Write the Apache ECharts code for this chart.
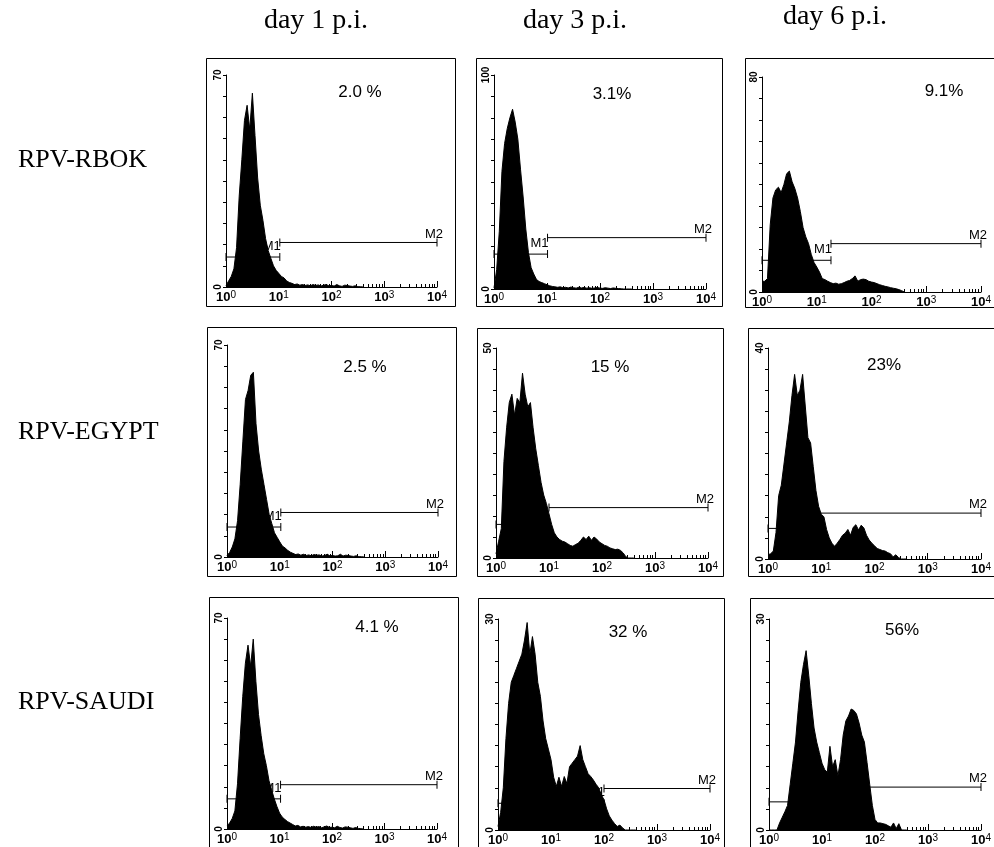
<!DOCTYPE html>
<html><head><meta charset="utf-8">
<script src="https://cdn.jsdelivr.net/npm/echarts@6/dist/echarts.min.js"></script>
<style>html,body{margin:0;padding:0;background:#fff}#c{width:994px;height:847px}</style>
</head><body><div id="c"></div>
<script>
// ---------------- data ----------------
const COL_TITLES = ['day 1 p.i.', 'day 3 p.i.', 'day 6 p.i.'];
const ROW_TITLES = ['RPV-RBOK', 'RPV-EGYPT', 'RPV-SAUDI'];
const X_DECADES = [0, 1, 2, 3, 4];            // tick labels 10^0 … 10^4
// channel positions (log10 of fluorescence)
const CH = [0,0.05,0.1,0.15,0.2,0.25,0.3,0.35,0.4,0.45,0.5,0.55,0.6,0.65,0.7,0.75,0.8,0.85,0.9,0.95,
            1,1.05,1.1,1.15,1.2,1.25,1.3,1.35,1.4,1.45,1.5,1.55,1.6,1.65,1.7,1.75,1.8,1.85,1.9,1.95,
            2,2.05,2.1,2.15,2.2,2.25,2.3,2.35,2.4,2.45,2.5,2.55,2.6];
const RBOK_D1  = [0.5,2,3.5,6,13,30,42,55,60,52,64,50,36,27,22,16,12,9.5,7,5.5,4.5,3.5,3,2,1.5,1.2,0.8,1,0.6,0.8,0.5,0.7,0.4,0.8,0.5,0.7,0.3,0.6,0.8,0.4,0.5,0.3,0.8,0.4,0.2,0.6,0.5,0.3,0.2,0.4,0.1,0.1,0];
const RBOK_D3  = [0.5,9,27,55,68,75,80,84,78,70,56,43,28,17,10,7,4.5,3.5,3,2.5,2,1.5,1.2,1,0.8,1,0.6,0.8,0.5,0.9,0.6,0.4,0.8,0.5,0.7,0.4,0.6,0.3,0.5,0.7,0.4,0.3,0.6,0.4,0.2,0.5,0.3,0.2,0.1,0,0,0,0];
const RBOK_D6  = [4,4,5,25,35,38,39,37,40,44,45,41,38.5,35,30,24,20.5,18,14,11,9.3,7.4,5,4.6,4,3.5,3.1,3.3,2.9,3.1,3.5,4,4.3,5,6,4,4.6,4.8,4.6,4,3.7,3.5,3.1,2.7,2.4,2.1,1.9,1.6,1.4,1.2,0.9,0.5,0];
const EGYPT_D1 = [0.5,1.5,3.3,6,12,24,38,52,55,60,61,44,35,29,24,19,14,11,8,6.5,5,3.6,3,2.2,1.6,1.2,0.8,1,0.6,0.9,0.5,0.7,0.4,0.8,0.6,0.7,0.3,0.5,0.9,0.4,0.5,0.3,0.4,0.9,0.3,0.6,0.5,0.3,0.2,0.4,0.1,0.1,0];
const EGYPT_D3 = [1,4,7,23,31,37,39,34,38,37,44,39,36,37,31,26,22,18,15,13,10.5,8,6,5,4.4,4,3.8,3.4,3,2.8,3.2,3.5,4.2,5,4.4,5.2,4.2,5,4.5,3.8,3.4,3,2.8,2.4,2.2,2,2.1,1.8,1.2,0.3,0,0,0];
const EGYPT_D6 = [0.8,1,1.5,5,12,14,18,22,26,31,35,31,32,35,29,23,22,17.5,13,10,8.5,8,5.6,4,3,2.4,3,3.7,4.5,4.9,5.6,4.5,6,6.5,5.5,6.4,5.9,4.5,3.6,3,2.5,2,1.8,1.6,1.5,1.2,1,0.4,0.8,0.3,0,0,0];
const SAUDI_D1 = [1,2,3.5,6,15,30,44,55,61,54,63,49,38,31,25,21,16,13,10,7.5,5.3,4,3.2,2.5,2,1.5,1,1.2,0.7,0.9,0.6,0.8,0.5,0.9,0.6,0.8,0.4,0.7,1,0.5,0.6,0.4,0.9,0.5,0.3,0.7,0.6,0.4,0.2,0.5,0.2,0.1,0];
const SAUDI_D3 = [0.5,2.5,6,13,18,21,22,23,24,25,27,29.5,25,27.5,25,21,19,15.5,13,11.5,10,7.5,6.2,7.5,6.2,7.6,6.6,9,9.5,10,10.5,12,10,9,8,7.6,7.1,6.5,6,5,4.3,3,2,1.4,0.9,0.5,0.7,0.3,0,0,0,0,0];
const SAUDI_D6 = [0,0,0,0,1,1.8,2.6,3.5,6.5,9.5,12.5,17,21,23.5,25.5,22,18,14.5,12.5,11,9.5,8.6,8.2,11.9,9,10,7.7,10,13.5,15.5,16.2,17.2,17,16.5,15.2,13.5,12.5,9.6,6.5,3.5,1.5,1,1,0.9,0.8,0.6,0.4,1,0.2,0.9,0,0,0];
const HISTS = [RBOK_D1, RBOK_D3, RBOK_D6, EGYPT_D1, EGYPT_D3, EGYPT_D6, SAUDI_D1, SAUDI_D3, SAUDI_D6];
const Y_MAX  = [70, 100, 80, 70, 50, 40, 70, 30, 30];
const PCT    = ['2.0 %', '3.1%', '9.1%', '2.5 %', '15 %', '23%', '4.1 %', '32 %', '56%'];
const M1_END = [1.02, 1.01, 1.26, 1.02, 1.0, 0.95, 1.02, 2.0, 1.88];
const M1_Y   = [9.9, 16.3, 11.8, 9.9, 8, 5.8, 10, 3.8, 4.0];
const M2_Y   = [14.7, 24, 18, 14.7, 12, 8.7, 14.7, 5.9, 6.1];
const M2_END = 4;

// ---------------- layout ----------------
const GRIDS = [[226,75,211,212],[494,75,212,214],[762,77,220,215],
               [227,345,211,212],[496,348,212,210],[768,348,219,211],
               [227,618,210,211],[498,619,212,211],[769,619,218,212]];
const BOXES = [[206,58,249,248],[476,58,246,248],[745,58,280,249],
               [207,327,249,249],[477,328,246,248],[748,328,280,248],
               [209,597,249,280],[478,598,246,280],[750,598,280,280]];
const PCT_POS = [[360,92],[612,94],[944,91],[365,367],[610,367],[884,365],[377,627],[628,632],[902,630]];
const COL_POS = [[316,21],[575,21],[835,17]];
const ROW_POS = [[18,160],[18,432],[18,702]];

const MINOR = [];
for (let d = 0; d < 4; d++) for (let k = 2; k <= 9; k++) MINOR.push(d + Math.log10(k));

const SANS = "'Liberation Sans', Arial, sans-serif";
const NARROW = "'Liberation Sans Narrow', 'Liberation Sans', Arial, sans-serif";
const SERIF = "'Liberation Serif', 'Times New Roman', serif";

const grid = [], xAxis = [], yAxis = [], series = [], graphic = [];
HISTS.forEach((h, i) => {
  const [l, t, w, ht] = GRIDS[i];
  grid.push({ left: l, top: t, width: w, height: ht, containLabel: false });
  // major axis with labels
  xAxis.push({
    type: 'value', gridIndex: i, position: 'bottom', min: 0, max: 4, interval: 1,
    axisLine: { show: true, lineStyle: { color: '#000', width: 1 } },
    axisTick: { show: true, inside: true, length: 6, lineStyle: { color: '#000' } },
    splitLine: { show: false },
    axisLabel: {
      margin: 3, color: '#000', fontFamily: NARROW,
      formatter: v => X_DECADES.includes(v) ? '{b|10}{s|' + v + '}' : '',
      rich: { b: { fontSize: 13, fontFamily: NARROW, color: '#000', fontWeight: 'bold', lineHeight: 15 },
              s: { fontSize: 10, fontFamily: NARROW, color: '#000', verticalAlign: 'top', lineHeight: 15 } }
    }
  });
  // minor log ticks
  xAxis.push({
    type: 'value', gridIndex: i, position: 'bottom', offset: 0, min: 0, max: 4,
    axisLine: { show: false },
    axisTick: { show: true, inside: true, length: 3, customValues: MINOR, lineStyle: { color: '#000' } },
    axisLabel: { show: false }, splitLine: { show: false }
  });
  const mx = Y_MAX[i];
  yAxis.push({
    type: 'value', gridIndex: i, min: 0, max: mx, interval: mx / 10,
    axisLine: { show: true, lineStyle: { color: '#000', width: 1 } },
    axisTick: { show: true, inside: false, length: 3, lineStyle: { color: '#000' } },
    splitLine: { show: false },
    axisLabel: {
      rotate: 90, margin: 3, fontSize: 10, fontWeight: 'bold', color: '#000', fontFamily: SANS,
      formatter: v => (v === 0 || v === mx) ? String(v) : ''
    }
  });
  const xi = i * 2;
  // M1 gate
  series.push({
    type: 'line', xAxisIndex: xi, yAxisIndex: i, z: 4, silent: true, animation: false,
    symbol: 'rect', symbolSize: [1, 8], itemStyle: { color: '#000' },
    lineStyle: { color: '#000', width: 1 },
    data: [[0, M1_Y[i]], { value: [M1_END[i], M1_Y[i]],
      label: { show: true, formatter: 'M1', position: 'top', distance: 0, offset: [-8, 0],
               fontSize: 13, fontFamily: SANS, color: '#000' } }]
  });
  // M2 gate
  series.push({
    type: 'line', xAxisIndex: xi, yAxisIndex: i, z: 4, silent: true, animation: false,
    symbol: 'rect', symbolSize: [1, 8], itemStyle: { color: '#000' },
    lineStyle: { color: '#000', width: 1 },
    data: [[M1_END[i], M2_Y[i]], { value: [M2_END, M2_Y[i]],
      label: { show: true, formatter: 'M2', position: 'top', distance: 0, offset: [-3, 2],
               fontSize: 13, fontFamily: SANS, color: '#000' } }]
  });
  // histogram
  series.push({
    type: 'line', xAxisIndex: xi, yAxisIndex: i, z: 3, silent: true, animation: false,
    showSymbol: false, symbol: 'none',
    lineStyle: { color: '#000', width: 1 },
    areaStyle: { color: '#000', opacity: 1 },
    data: CH.map((x, j) => [x, h[j]])
  });
  // frame
  const [bx, by, bw, bh] = BOXES[i];
  graphic.push({ type: 'rect', z: 1, silent: true,
    shape: { x: bx + 0.5, y: by + 0.5, width: bw, height: bh },
    style: { fill: 'none', stroke: '#000', lineWidth: 1 } });
  // percentage
  graphic.push({ type: 'text', z: 10, silent: true, x: PCT_POS[i][0], y: PCT_POS[i][1],
    style: { text: PCT[i], fill: '#000', font: '17px ' + SANS, textAlign: 'center', textVerticalAlign: 'middle' } });
});
COL_TITLES.forEach((s, c) => graphic.push({ type: 'text', silent: true, x: COL_POS[c][0], y: COL_POS[c][1],
  style: { text: s, fill: '#000', font: '28px ' + SERIF, textAlign: 'center', textVerticalAlign: 'middle' } }));
ROW_TITLES.forEach((s, r) => graphic.push({ type: 'text', silent: true, x: ROW_POS[r][0], y: ROW_POS[r][1],
  style: { text: s, fill: '#000', font: '26px ' + SERIF, textAlign: 'left', textVerticalAlign: 'middle' } }));

const chart = echarts.init(document.getElementById('c'), null, { renderer: 'canvas' });
chart.setOption({ backgroundColor: '#fff', animation: false, grid, xAxis, yAxis, series, graphic });
</script></body></html>
